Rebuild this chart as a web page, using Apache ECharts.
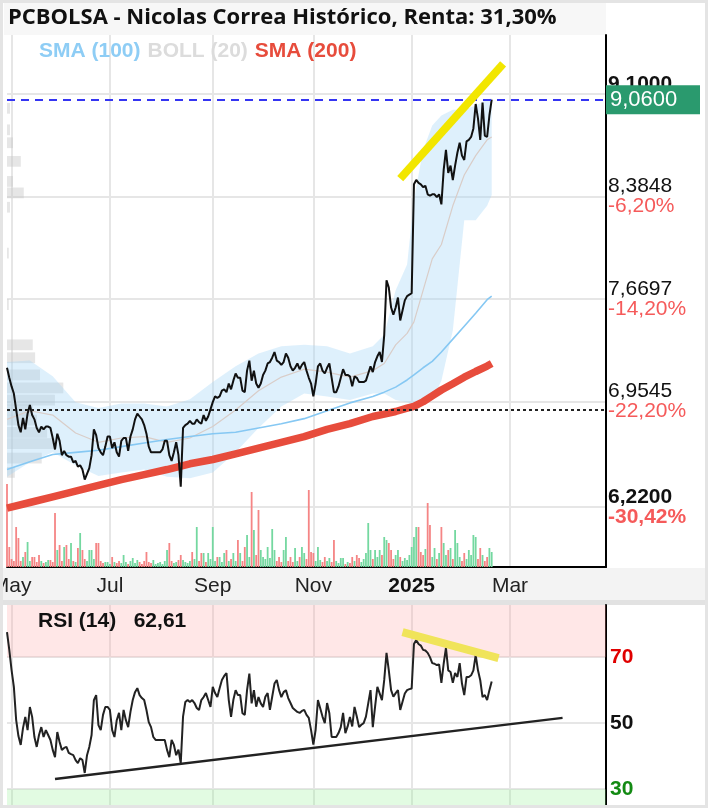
<!DOCTYPE html>
<html>
<head>
<meta charset="utf-8">
<script src="https://cdn.jsdelivr.net/npm/echarts@6/dist/echarts.min.js"></script>
<style>
html, body { margin: 0; padding: 0; background: #fff; }
#chart { width: 708px; height: 808px; }
</style>
</head>
<body>
<div id="chart"></div>
<script>
var titleText = 'PCBOLSA - Nicolas Correa Histórico, Renta: 31,30%';
var monthNames = ['Jan', 'Feb', 'Mar', 'Apr', 'May', 'Jun', 'Jul', 'Aug', 'Sep', 'Oct', 'Nov', 'Dec'];
var dayCount = 263;   // trading days shown on the axis, from 2024-04-29

// closing prices, one per trading day (29 Apr 2024 .. 19 Feb 2025)
var closes = [
  7.19,7.12,7.06,7.01,6.90,6.79,6.74,6.84,6.76,6.87,
  6.93,6.86,6.83,6.77,6.74,6.78,6.76,6.78,6.78,6.77,
  6.70,6.62,6.73,6.68,6.58,6.61,6.58,6.57,6.57,6.53,
  6.54,6.50,6.51,6.48,6.41,6.45,6.49,6.58,6.76,6.72,
  6.63,6.60,6.58,6.64,6.71,6.71,6.63,6.67,6.60,6.57,
  6.68,6.70,6.70,6.61,6.71,6.76,6.83,6.87,6.85,6.83,
  6.79,6.73,6.64,6.60,6.60,6.60,6.60,6.60,6.62,6.68,
  6.68,6.58,6.54,6.60,6.67,6.58,6.36,6.77,6.79,6.80,
  6.82,6.80,6.80,6.83,6.81,6.80,6.86,6.82,6.85,6.90,
  6.95,6.99,6.98,6.99,7.03,7.04,7.02,7.08,7.04,7.10,
  7.15,7.12,7.12,7.03,7.02,7.17,7.24,7.10,7.17,7.08,
  7.05,7.08,7.14,7.17,7.22,7.23,7.26,7.30,7.24,7.23,
  7.21,7.23,7.29,7.26,7.20,7.17,7.19,7.22,7.18,7.21,
  7.23,7.17,7.12,7.08,6.99,7.08,7.20,7.22,7.17,7.15,
  7.19,7.22,7.12,7.02,7.02,7.06,7.12,7.18,7.14,7.14,
  7.13,7.06,7.13,7.12,7.09,7.09,7.09,7.10,7.15,7.20,
  7.16,7.23,7.27,7.30,7.23,7.42,7.80,7.75,7.61,7.56,
  7.61,7.68,7.52,7.59,7.66,7.69,7.70,7.71,8.47,8.50,
  8.48,8.47,8.45,8.46,8.40,8.39,8.40,8.40,8.38,8.40,
  8.33,8.57,8.71,8.55,8.60,8.50,8.60,8.69,8.76,8.67,
  8.64,8.77,8.78,8.80,8.86,9.03,8.93,8.78,9.04,8.81,
  8.80,8.95,9.06
];

// volume (relative units)
var volumes = [
  83,20,8,6,40,29,6,10,15,25,
  6,10,10,5,12,6,4,5,7,7,
  5,54,17,22,6,20,22,8,24,6,
  5,19,34,17,8,6,17,17,8,24,
  24,6,4,5,5,3,10,5,4,6,
  4,12,5,3,6,9,4,7,5,3,
  6,15,5,4,7,3,4,5,3,6,
  17,24,6,4,5,7,12,7,5,4,
  6,15,8,40,6,14,14,5,14,8,
  40,6,10,10,5,14,17,6,8,14,
  6,27,14,6,20,32,10,75,37,12,
  57,17,10,8,20,9,38,17,6,10,
  5,17,30,6,10,5,19,6,10,20,
  14,8,77,15,14,6,20,7,5,10,
  6,9,5,27,6,4,9,9,3,5,
  4,10,6,12,9,5,8,14,44,17,
  8,17,10,17,12,30,27,24,17,8,
  12,17,10,6,9,7,12,20,30,40,
  40,15,12,18,64,42,10,19,8,14,
  40,24,12,17,19,8,37,24,10,6,
  14,8,17,12,32,30,8,19,12,6,
  10,19,15
];

// RSI (14)
var rsi = [
  77.6,72.2,66.1,61.0,51.0,46.1,43.4,48.5,51.9,47.9,
  54.9,51.9,45.8,42.8,46.4,48.8,45.8,47.9,46.4,44.9,
  41.9,39.7,47.3,44.3,41.9,42.5,42.8,41.0,40.6,40.3,
  38.8,37.9,39.4,38.8,34.9,40.3,42.8,46.4,57.0,58.5,
  49.4,47.9,52.5,54.9,54.9,54.0,47.9,45.8,50.9,53.1,
  47.9,54.0,50.9,48.8,53.4,57.0,59.4,60.6,58.5,57.6,
  57.0,54.0,50.3,48.8,45.8,44.9,44.9,44.9,44.9,44.9,
  41.9,39.7,44.9,43.4,40.3,42.0,37.9,52.0,56.4,57.0,
  56.4,57.0,56.1,54.6,54.0,57.0,57.9,59.1,57.0,54.9,
  61.0,59.1,57.9,60.6,63.1,64.3,65.2,57.0,51.9,57.0,
  60.0,58.5,58.5,53.0,52.5,60.0,65.0,56.0,60.0,55.0,
  57.9,56.0,54.9,58.0,59.1,54.0,58.0,62.0,63.1,60.0,
  57.9,59.4,60.0,57.6,56.1,54.6,54.0,53.4,53.1,53.7,
  54.0,52.5,51.6,47.9,43.5,48.0,57.0,54.5,52.0,50.0,
  56.1,53.0,45.8,45.8,45.8,47.0,48.8,53.1,47.0,49.0,
  51.9,49.0,54.9,52.0,48.8,49.5,50.0,52.0,56.0,60.0,
  48.8,55.0,61.0,59.0,57.0,63.1,71.3,66.0,60.0,58.0,
  59.1,60.0,54.0,56.5,59.0,60.0,60.3,60.5,74.0,75.2,
  74.0,73.5,72.2,72.0,71.3,70.0,68.2,68.0,67.6,67.8,
  62.2,68.0,72.8,66.0,65.5,62.2,65.2,64.0,68.2,62.0,
  58.5,64.0,64.0,64.5,66.0,70.6,66.0,63.0,57.9,58.5,
  57.0,60.0,62.61
];

// indicator lines, read at these trading days
var bandDays = [0,10,20,30,40,50,60,70,80,90,100,110,120,130,140,150,160,165,170,175,178,182,186,190,195,200,205,210,212];
var bollUpper = [7.23,7.24,7.13,6.95,6.91,6.94,6.94,6.92,6.97,7.09,7.20,7.29,7.34,7.35,7.34,7.29,7.34,7.42,7.73,7.91,8.36,8.71,8.88,8.95,8.99,8.99,9.02,9.06,9.07];
var bollLower = [6.43,6.53,6.60,6.51,6.435,6.46,6.48,6.43,6.42,6.46,6.60,6.77,6.92,7.01,6.99,6.965,7.01,7.01,6.965,6.95,6.93,6.93,6.965,7.10,7.45,8.22,8.22,8.32,8.395];
var bollMid = [6.83,6.89,6.86,6.735,6.67,6.70,6.71,6.67,6.70,6.78,6.895,7.03,7.125,7.18,7.16,7.125,7.17,7.22,7.35,7.43,7.51,7.73,7.95,8.05,8.32,8.535,8.67,8.78,8.80];
var sma100 = [6.48,6.535,6.585,6.60,6.615,6.64,6.665,6.69,6.71,6.73,6.74,6.77,6.80,6.835,6.89,6.945,6.99,7.02,7.055,7.105,7.14,7.19,7.235,7.30,7.39,7.48,7.57,7.665,7.69];
var sma200 = [6.21,6.25,6.29,6.33,6.37,6.41,6.445,6.48,6.52,6.55,6.59,6.63,6.67,6.71,6.76,6.80,6.85,6.867,6.885,6.908,6.921,6.953,6.994,7.035,7.079,7.124,7.164,7.202,7.22];

// volume by price (left edge)
var profilePrice = [9.00,8.85,8.76,8.63,8.49,8.41,8.31,7.99,7.63,7.35,7.26,7.14,7.05,6.965,6.895,6.825,6.74,6.66,6.56,6.46];
var profileVol = [5,5,10,23,10,28,5,3,3,43,47,55,94,80,43,50,67,80,58,13];
var profileStep = 0.075;

var lastPrice = 9.06;
var yearAgoPrice = 6.90;
var rsiLast = 62.614;

var priceTicks = [6.22, 6.9545, 7.6697, 8.3848, 9.1];
var priceTickPct = ['-30,42%', '-22,20%', '-14,20%', '-6,20%', ''];
var rsiTicks = [30, 50, 70];

// drawn trend lines: [trading day, value]
var priceTrend = [[172, 8.51], [217, 9.31]];
var rsiTrendTop = [[173, 77.6], [215, 69.7]];
var rsiTrendBase = [[21, 33.1], [243, 51.6]];

// weekday categories
var cats = [];
var dt = new Date(Date.UTC(2024, 3, 29));
while (cats.length < dayCount) {
  var wd = dt.getUTCDay();
  if (wd !== 0 && wd !== 6) cats.push(dt.toISOString().slice(0, 10));
  dt.setUTCDate(dt.getUTCDate() + 1);
}

function fmt(v, n) { return v.toFixed(n).replace('.', ','); }

function isMonthTick(i) {
  if (i === 0) return false;
  var m = cats[i].slice(5, 7);
  return m !== cats[i - 1].slice(5, 7) && (+m) % 2 === 1;
}

function pairs(vals) {
  return bandDays.map(function (d, k) { return [cats[d], vals[k]]; });
}

var bandWidth = bollUpper.map(function (u, k) { return +(u - bollLower[k]).toFixed(4); });

var chart = echarts.init(document.getElementById('chart'));

var option = {
  animation: false,
  backgroundColor: '#fff',
  textStyle: { fontFamily: 'Liberation Sans' },
  graphic: [
    { type: 'rect', z: -100, shape: { x: 4, y: 3, width: 602, height: 32 }, style: { fill: '#f7f7f7' } },
    { type: 'rect', z: -100, shape: { x: 0, y: 568, width: 708, height: 32 }, style: { fill: '#f3f3f3' } },
    { type: 'rect', z: -100, shape: { x: 0, y: 600, width: 708, height: 5 }, style: { fill: '#e2e2e2' } },
    { type: 'rect', z: 100, shape: { x: 1.5, y: 1.5, width: 705, height: 805 }, style: { fill: null, stroke: '#e4e4e4', lineWidth: 3 } }
  ],
  title: [
    {
      text: titleText, left: 8, top: 7, padding: 0,
      textStyle: { fontFamily: 'Open Sans', fontWeight: 'bold', fontSize: 22, color: '#111' }
    },
    {
      text: 'RSI (14)   62,61', left: 38, top: 611, padding: 0,
      textStyle: { fontFamily: 'Liberation Sans', fontWeight: 'bold', fontSize: 21, color: '#111' }
    }
  ],
  legend: {
    left: 34, top: 41, icon: 'none', itemWidth: 0, itemGap: 2, padding: 0,
    selectedMode: false,
    textStyle: { fontFamily: 'Liberation Sans', fontWeight: 'bold', fontSize: 21 },
    data: [
      { name: 'SMA (100)', textStyle: { color: '#8ecdf5' } },
      { name: 'BOLL (20)', textStyle: { color: '#dcdcdc' } },
      { name: 'SMA (200)', textStyle: { color: '#e74c3c' } }
    ]
  },
  grid: [
    { left: 7, right: 102, top: 35, bottom: 241, outerBoundsMode: 'none' },
    { left: 7, right: 102, top: 467, bottom: 241, outerBoundsMode: 'none' },
    { left: 7, right: 102, top: 605, bottom: 3, outerBoundsMode: 'none' }
  ],
  xAxis: [
    {
      type: 'category', gridIndex: 0, data: cats, boundaryGap: false,
      axisLine: { onZero: false, lineStyle: { color: '#000', width: 2 } },
      axisTick: { show: false },
      axisLabel: {
        interval: isMonthTick, margin: 9, fontSize: 21, color: '#222',
        formatter: function (v) {
          var m = +v.slice(5, 7);
          return m === 1 ? '{y|' + v.slice(0, 4) + '}' : monthNames[m - 1];
        },
        rich: { y: { fontSize: 21, fontWeight: 'bold', color: '#111' } }
      },
      splitLine: { show: true, interval: isMonthTick, lineStyle: { color: '#e6e6e6', width: 2 } }
    },
    { type: 'value', gridIndex: 0, position: 'top', min: 0, max: 1000, show: false, axisLine: { onZero: false } },
    { type: 'category', gridIndex: 1, data: cats, boundaryGap: false, show: false },
    {
      type: 'category', gridIndex: 2, data: cats, boundaryGap: false,
      axisLine: { show: false, onZero: false }, axisTick: { show: false }, axisLabel: { show: false },
      splitLine: { show: true, interval: isMonthTick, lineStyle: { color: '#e6e6e6', width: 2 } }
    }
  ],
  yAxis: [
    {
      type: 'value', gridIndex: 0, position: 'right', min: 5.8, max: 9.5116,
      axisLine: { show: true, onZero: false, lineStyle: { color: '#000', width: 2 } },
      axisTick: { show: false, customValues: priceTicks },
      axisLabel: {
        customValues: priceTicks, margin: 2,
        formatter: function (v) {
          var k = -1;
          priceTicks.forEach(function (t, j) { if (Math.abs(t - v) < 1e-6) k = j; });
          if (k < 0) return '';
          var bold = (k === 0 || k === priceTicks.length - 1);
          return '{' + (bold ? 'vb' : 'v') + '|' + fmt(priceTicks[k], 4) + '}\n{' +
            (bold ? 'pb' : 'p') + '|' + (priceTickPct[k] || ' ') + '}';
        },
        rich: {
          v: { fontSize: 21, color: '#111', lineHeight: 20 },
          vb: { fontSize: 21, color: '#111', fontWeight: 'bold', lineHeight: 20 },
          p: { fontSize: 21, color: '#f55a5a', lineHeight: 20 },
          pb: { fontSize: 21, color: '#f55a5a', fontWeight: 'bold', lineHeight: 20 }
        }
      },
      splitLine: { show: true, lineStyle: { color: '#e6e6e6', width: 2 } }
    },
    { type: 'value', gridIndex: 1, min: 0, max: 100, show: false },
    {
      type: 'value', gridIndex: 2, position: 'right', min: 25.2, max: 85.8,
      axisLine: { show: true, onZero: false, lineStyle: { color: '#000', width: 2 } },
      axisTick: { show: false, customValues: rsiTicks },
      axisLabel: {
        customValues: rsiTicks, margin: 4,
        formatter: function (v) {
          var s = v >= 70 ? 'r' : (v <= 30 ? 'g' : 'k');
          return '{' + s + '|' + v + '}';
        },
        rich: {
          r: { fontSize: 21, fontWeight: 'bold', color: '#e00000' },
          k: { fontSize: 21, fontWeight: 'bold', color: '#111' },
          g: { fontSize: 21, fontWeight: 'bold', color: '#138a13' }
        }
      },
      splitLine: { show: true, lineStyle: { color: '#e6e6e6', width: 2 } }
    }
  ],
  series: [
    {
      name: 'profile', type: 'custom', xAxisIndex: 1, yAxisIndex: 0, silent: true, z: 1,
      data: profilePrice.map(function (p, k) { return [profileVol[k], p]; }),
      renderItem: function (params, api) {
        var a = api.coord([0, api.value(1) + profileStep / 2]);
        var b = api.coord([api.value(0), api.value(1) - profileStep / 2]);
        return {
          type: 'rect',
          shape: { x: a[0], y: a[1], width: b[0] - a[0], height: b[1] - a[1] },
          style: { fill: 'rgba(200,200,200,0.45)', stroke: null, lineWidth: 0 }
        };
      }
    },
    {
      name: 'bollLow', type: 'line', xAxisIndex: 0, yAxisIndex: 0, stack: 'bb', silent: true,
      symbol: 'none', lineStyle: { opacity: 0 }, data: pairs(bollLower), z: 1
    },
    {
      name: 'bollBand', type: 'line', xAxisIndex: 0, yAxisIndex: 0, stack: 'bb', silent: true,
      symbol: 'none', lineStyle: { opacity: 0 }, areaStyle: { color: 'rgba(160,212,245,0.35)', opacity: 1 },
      data: pairs(bandWidth), z: 1
    },
    {
      name: 'BOLL (20)', type: 'line', xAxisIndex: 0, yAxisIndex: 0, symbol: 'none', silent: true,
      lineStyle: { color: '#d9cdc8', width: 1.2 }, itemStyle: { color: '#dcdcdc' }, data: pairs(bollMid), z: 2
    },
    {
      name: 'SMA (100)', type: 'line', xAxisIndex: 0, yAxisIndex: 0, symbol: 'none', silent: true,
      lineStyle: { color: '#86c8f3', width: 1.6 }, itemStyle: { color: '#8ecdf5' }, data: pairs(sma100), z: 2
    },
    {
      name: 'SMA (200)', type: 'line', xAxisIndex: 0, yAxisIndex: 0, symbol: 'none', silent: true,
      lineStyle: { color: '#e74c3c', width: 7.5 }, itemStyle: { color: '#e74c3c' }, data: pairs(sma200), z: 3
    },
    {
      name: 'PCBOLSA', type: 'line', xAxisIndex: 0, yAxisIndex: 0, symbol: 'none',
      lineStyle: { color: '#111', width: 2 }, data: closes, z: 4,
      markLine: {
        silent: true, symbol: ['none', 'none'], animation: false,
        data: [
          {
            yAxis: lastPrice,
            lineStyle: { color: '#3535f2', type: [8, 6], width: 2 },
            label: {
              show: true, position: 'end', distance: 0, formatter: fmt(lastPrice, 4),
              backgroundColor: '#2a9a6e', color: '#fff', fontSize: 22, lineHeight: 23,
              padding: [3, 4], width: 86
            }
          },
          {
            yAxis: yearAgoPrice,
            lineStyle: { color: '#222', type: [3, 3], width: 2 },
            label: { show: false }
          },
          [
            { coord: [cats[priceTrend[0][0]], priceTrend[0][1]], lineStyle: { color: '#f2e600', width: 8, type: 'solid' }, label: { show: false } },
            { coord: [cats[priceTrend[1][0]], priceTrend[1][1]] }
          ]
        ]
      }
    },
    {
      name: 'volume', type: 'bar', xAxisIndex: 2, yAxisIndex: 1, barWidth: 1.8, silent: true,
      data: volumes,
      itemStyle: {
        color: function (p) {
          var i = p.dataIndex;
          return (i > 0 && closes[i] >= closes[i - 1]) ? '#74d8a0' : '#f58585';
        }
      }
    },
    {
      name: 'RSI (14)', type: 'line', xAxisIndex: 3, yAxisIndex: 2, symbol: 'none',
      lineStyle: { color: '#222', width: 2 }, data: rsi, z: 4,
      markArea: {
        silent: true,
        data: [
          [{ yAxis: 70, itemStyle: { color: 'rgba(255,160,160,0.25)' } }, { yAxis: 85.8 }],
          [{ yAxis: 25.2, itemStyle: { color: 'rgba(140,240,140,0.25)' } }, { yAxis: 30 }]
        ]
      },
      markLine: {
        silent: true, symbol: ['none', 'none'], animation: false,
        data: [
          {
            yAxis: rsiLast,
            lineStyle: { opacity: 0 },
            label: {
              show: true, position: 'end', distance: 0, formatter: fmt(rsiLast, 3),
              backgroundColor: '#000', color: '#fff', fontSize: 22, lineHeight: 22,
              padding: [3, 4], width: 86
            }
          },
          [
            { coord: [cats[rsiTrendTop[0][0]], rsiTrendTop[0][1]], lineStyle: { color: '#f0e45a', width: 8, type: 'solid' }, label: { show: false } },
            { coord: [cats[rsiTrendTop[1][0]], rsiTrendTop[1][1]] }
          ],
          [
            { coord: [cats[rsiTrendBase[0][0]], rsiTrendBase[0][1]], lineStyle: { color: '#222', width: 2.5, type: 'solid' }, label: { show: false } },
            { coord: [cats[rsiTrendBase[1][0]], rsiTrendBase[1][1]] }
          ]
        ]
      }
    }
  ]
};

chart.setOption(option);
</script>
</body>
</html>
